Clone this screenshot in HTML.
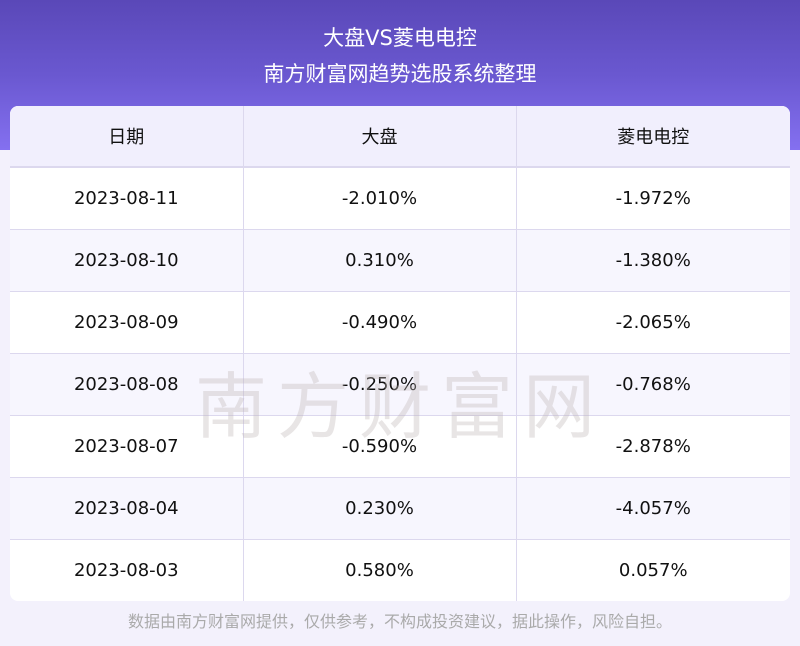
<!DOCTYPE html>
<html><head><meta charset="utf-8"><style>
body{margin:0;width:800px;height:646px;overflow:hidden;font-family:"DejaVu Sans","Noto Sans CJK SC",sans-serif;background:#f3f1fc;position:relative}
.hd{position:absolute;left:0;top:0;width:800px;height:150px;background:linear-gradient(180deg,#5a48b8 0%,#6a58d0 50%,#8470f0 100%)}
.t1,.t2{position:absolute;width:800px;text-align:center;color:#fff;font-size:21px}
.t1{top:22px}.t2{top:58px}
table{position:absolute;left:10px;top:106px;width:780px;border-collapse:collapse;background:#fff;border-radius:8px;overflow:hidden;font-size:18px;color:#111}
td{height:61px;text-align:center;border-bottom:1px solid #dcd8ee;border-right:1px solid #dcd8ee;padding:0}
td:last-child{border-right:none}
tr:last-child td{border-bottom:none}
tr.h td{background:#f1effd;height:60px;border-bottom:2px solid #dcd8ee}
tr.a td{background:#f7f6fe}
.ft{position:absolute;top:608px;width:800px;text-align:center;color:#aaa;font-size:16px}
.wm{position:absolute;left:195px;top:348px;font-size:72px;color:rgba(190,180,180,.35);letter-spacing:10px}
</style></head><body>
<div class="hd"></div>
<div class="t1">大盘VS菱电电控</div>
<div class="t2">南方财富网趋势选股系统整理</div>
<table>
<colgroup><col style="width:233px"><col style="width:273px"><col style="width:274px"></colgroup>
<tr class="h"><td>日期</td><td>大盘</td><td>菱电电控</td></tr>
<tr><td>2023-08-11</td><td>-2.010%</td><td>-1.972%</td></tr>
<tr class="a"><td>2023-08-10</td><td>0.310%</td><td>-1.380%</td></tr>
<tr><td>2023-08-09</td><td>-0.490%</td><td>-2.065%</td></tr>
<tr class="a"><td>2023-08-08</td><td>-0.250%</td><td>-0.768%</td></tr>
<tr><td>2023-08-07</td><td>-0.590%</td><td>-2.878%</td></tr>
<tr class="a"><td>2023-08-04</td><td>0.230%</td><td>-4.057%</td></tr>
<tr><td>2023-08-03</td><td>0.580%</td><td>0.057%</td></tr>
</table>
<div class="wm">南方财富网</div>
<div class="ft">数据由南方财富网提供，仅供参考，不构成投资建议，据此操作，风险自担。</div>
</body></html>
